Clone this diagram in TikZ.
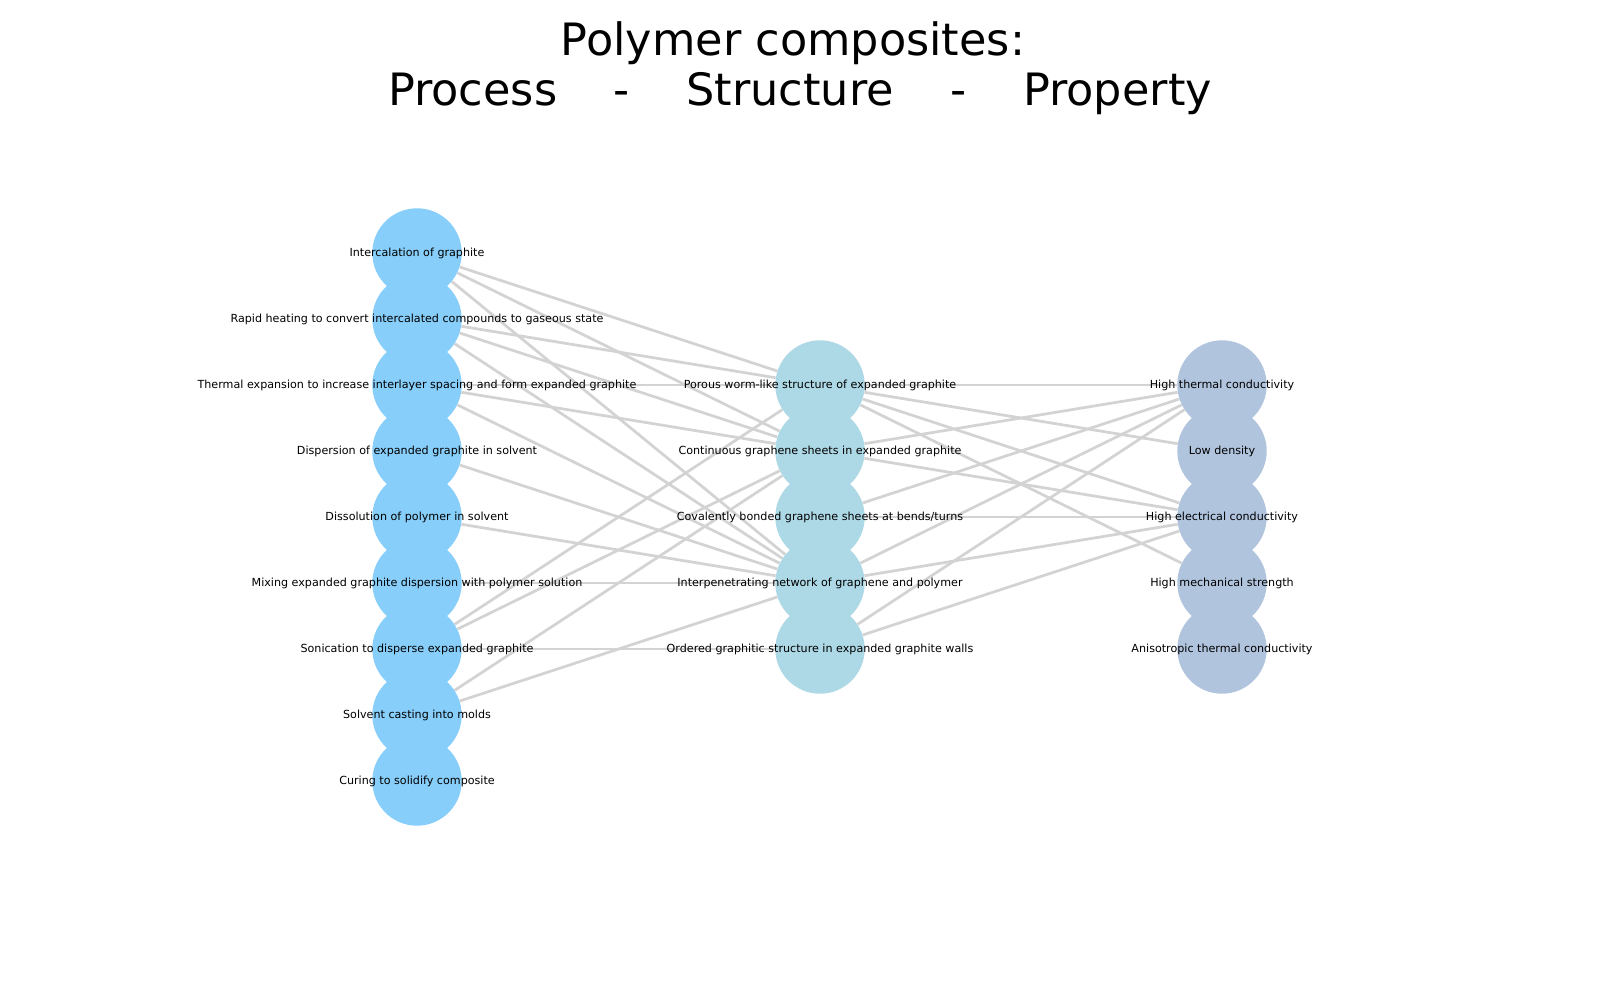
\documentclass[tikz,border=0pt]{standalone}
\usepackage{fontspec}
\setmainfont{DejaVu Sans}
\usetikzlibrary{backgrounds}

\definecolor{procblue}{HTML}{87CEFA}
\definecolor{strucblue}{HTML}{ADD8E6}
\definecolor{propblue}{HTML}{B0C4DE}
\definecolor{linkgray}{HTML}{D3D3D3}

\newcommand{\nodetext}[1]{\makebox[0pt]{#1}}

\begin{document}
\begin{tikzpicture}
[x=0.025cm,y=-0.025cm,
vertex/.style={shape=circle,inner sep=0pt,minimum size=2.235cm,
  text height=0.76em,text depth=0.24em,font=\fontsize{7.92}{9.5}\selectfont},
procnode/.style={vertex,fill=procblue},
strucnode/.style={vertex,fill=strucblue},
propnode/.style={vertex,fill=propblue},
heading/.style={anchor=base,inner sep=0pt,font=\fontsize{31.7}{38}\selectfont},
link/.style={draw=linkgray,line width=1.95pt}]

\useasboundingbox (0,0) rectangle (1600,1000);

\node[heading] (title1) at (793,55) {Polymer composites:};
\node[heading] (title2) at (800,105) {Process\hspace{1.27em}-\hspace{1.27em}Structure\hspace{1.27em}-\hspace{1.27em}Property};

% process
\node[procnode] (p1) at (417,253) {\nodetext{Intercalation of graphite}};
\node[procnode] (p2) at (417,319) {\nodetext{Rapid heating to convert intercalated compounds to gaseous state}};
\node[procnode] (p3) at (417,385) {\nodetext{Thermal expansion to increase interlayer spacing and form expanded graphite}};
\node[procnode] (p4) at (417,451) {\nodetext{Dispersion of expanded graphite in solvent}};
\node[procnode] (p5) at (417,517) {\nodetext{Dissolution of polymer in solvent}};
\node[procnode] (p6) at (417,583) {\nodetext{Mixing expanded graphite dispersion with polymer solution}};
\node[procnode] (p7) at (417,649) {\nodetext{Sonication to disperse expanded graphite}};
\node[procnode] (p8) at (417,715) {\nodetext{Solvent casting into molds}};
\node[procnode] (p9) at (417,781) {\nodetext{Curing to solidify composite}};

% structure
\node[strucnode] (s1) at (820,385) {\nodetext{Porous worm-like structure of expanded graphite}};
\node[strucnode] (s2) at (820,451) {\nodetext{Continuous graphene sheets in expanded graphite}};
\node[strucnode] (s3) at (820,517) {\nodetext{Covalently bonded graphene sheets at bends/turns}};
\node[strucnode] (s4) at (820,583) {\nodetext{Interpenetrating network of graphene and polymer}};
\node[strucnode] (s5) at (820,649) {\nodetext{Ordered graphitic structure in expanded graphite walls}};

% property
\node[propnode] (r1) at (1222,385) {\nodetext{High thermal conductivity}};
\node[propnode] (r2) at (1222,451) {\nodetext{Low density}};
\node[propnode] (r3) at (1222,517) {\nodetext{High electrical conductivity}};
\node[propnode] (r4) at (1222,583) {\nodetext{High mechanical strength}};
\node[propnode] (r5) at (1222,649) {\nodetext{Anisotropic thermal conductivity}};

\begin{scope}[on background layer]
\foreach \a/\b in {p1/s1,p1/s2,p1/s4,p2/s1,p2/s2,p2/s4,p3/s1,p3/s2,p3/s4,
  p4/s4,p5/s4,p6/s4,p7/s1,p7/s2,p7/s5,p8/s2,p8/s4,
  s1/r1,s1/r2,s1/r3,s1/r4,s2/r1,s2/r3,s3/r1,s3/r3,s4/r1,s4/r3,s5/r1,s5/r3}
  \draw[link] (\a) -- (\b);
\end{scope}
\end{tikzpicture}
\end{document}
